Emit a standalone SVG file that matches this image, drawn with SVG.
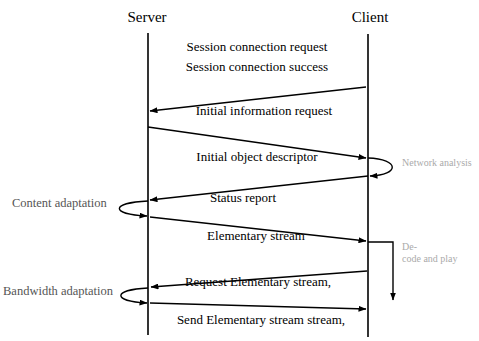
<svg xmlns="http://www.w3.org/2000/svg" width="479" height="341" viewBox="0 0 479 341">
<style>
.t{font-family:"Liberation Serif","Times New Roman",serif;fill:#000}
.m{font-size:13px;text-anchor:middle}
.h{font-size:15px;text-anchor:middle}
.s{font-size:12.5px;fill:#555}
.f{font-size:10px;fill:#aaa}
.ln{stroke:#000;stroke-width:1.4;fill:none}
.life{stroke:#000;stroke-width:1.6}
</style>
<defs>
<marker id="ah" markerWidth="8" markerHeight="6" refX="7.5" refY="3" orient="auto" markerUnits="userSpaceOnUse">
<path d="M0,0 L8,3 L0,6 Z" fill="#000"/>
</marker>
</defs>
<rect width="479" height="341" fill="#fff"/>
<g id="server">
<text class="t h" x="147" y="22">Server</text>
<line class="life" x1="148" y1="33" x2="148" y2="335"/>
</g>
<g id="client">
<text class="t h" x="370" y="22">Client</text>
<line class="life" x1="368" y1="34" x2="368" y2="337"/>
</g>
<g id="labels">
<text class="t m" x="257" y="51">Session connection request</text>
<text class="t m" x="257" y="71">Session connection success</text>
<text class="t s" x="12" y="207">Content adaptation</text>
<text class="t s" x="3" y="295">Bandwidth adaptation</text>
<text class="t f" x="402" y="166">Network analysis</text>
<text class="t f" x="402" y="250">De-</text>
<text class="t f" x="402" y="262">code and play</text>
</g>
<g id="connectors">
<line class="ln" x1="366" y1="87" x2="150" y2="111" marker-end="url(#ah)"/>
<text class="t m" x="264" y="115">Initial information request</text>
<line class="ln" x1="148" y1="127" x2="366" y2="158" marker-end="url(#ah)"/>
<text class="t m" x="257" y="161">Initial object descriptor</text>
<path class="ln" d="M368,158 C400,159 400,175 370,176" marker-end="url(#ah)"/>
<line class="ln" x1="368" y1="176" x2="150" y2="200" marker-end="url(#ah)"/>
<text class="t m" x="243" y="202">Status report</text>
<path class="ln" d="M148,201 C110,203 110,214 147,216" marker-end="url(#ah)"/>
<line class="ln" x1="150" y1="217" x2="366" y2="241" marker-end="url(#ah)"/>
<text class="t m" x="256" y="240">Elementary stream</text>
<path class="ln" d="M368,242 L393,242 L393,300" marker-end="url(#ah)"/>
<line class="ln" x1="367" y1="271" x2="151" y2="287" marker-end="url(#ah)"/>
<text class="t m" x="258" y="286">Request Elementary stream,</text>
<path class="ln" d="M148,288 C112,290 112,301 147,303" marker-end="url(#ah)"/>
<line class="ln" x1="150" y1="303" x2="366" y2="309" marker-end="url(#ah)"/>
<text class="t m" x="261" y="324">Send Elementary stream stream,</text>
</g>
</svg>
